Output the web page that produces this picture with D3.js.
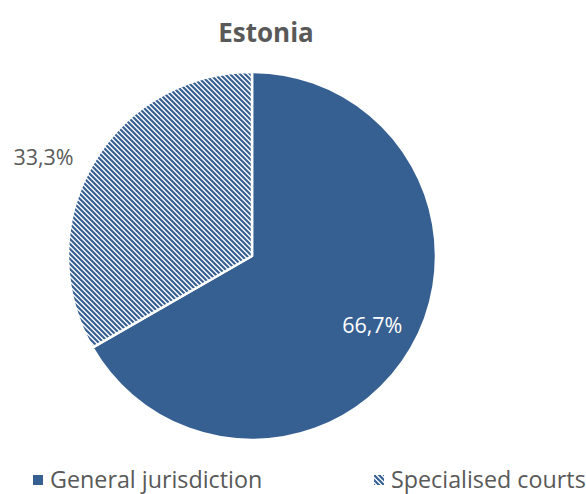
<!DOCTYPE html>
<html>
<head>
    <meta charset="utf-8">
    <title>Estonia</title>
    <style type="text/css">
        body {
            margin: 0;
            background: #ffffff;
        }

        svg text {
            font-family: "Open Sans", "DejaVu Sans", sans-serif;
        }
    </style>
</head>
<body>
<div id="chart"></div>
<script src="https://cdn.jsdelivr.net/npm/d3@7/dist/d3.min.js"></script>
<script type="text/javascript">
    // data
    var categories = ["General jurisdiction", "Specialised courts"];
    var values = [66.7, 33.3];
    var labels = ["66,7%", "33,3%"];
    var title = "Estonia";

    var width = 586, height = 494;
    var cx = 252, cy = 256, radius = 184;
    var blue = "#376092";

    var svg = d3.select('#chart')
        .append('svg')
        .attr("width", width)
        .attr("height", height);

    // hatch pattern for specialised courts (wide downward diagonal)
    var defs = svg.append('defs');
    var pat = defs.append('pattern')
        .attr("id", "hatch")
        .attr("patternUnits", "userSpaceOnUse")
        .attr("width", 5)
        .attr("height", 5);
    pat.append('rect')
        .attr("width", 5).attr("height", 5)
        .attr("fill", "#ffffff");
    pat.append('path')
        .attr("d", "M-1,-1 L6,6 M4,-1 L6,1 M-1,4 L1,6")
        .attr("stroke", blue)
        .attr("stroke-width", 2.2);

    var fills = [blue, "url(#hatch)"];

    // title
    svg.append('text')
        .attr("x", 266)
        .attr("y", 42)
        .attr("text-anchor", "middle")
        .style("font-size", "26px")
        .style("font-weight", "bold")
        .style("fill", "#595959")
        .text(title);

    var pie = d3.pie().sort(null).value(function (d) { return d; });
    var arcs = pie(values);
    var arc = d3.arc().innerRadius(0).outerRadius(radius);

    var g = svg.append('g').attr("transform", "translate(" + cx + "," + cy + ")");

    g.selectAll('path')
        .data(arcs)
        .enter()
        .append('path')
        .attr("d", arc)
        .attr("fill", function (d, i) { return fills[i]; })
        .attr("stroke", "#ffffff")
        .attr("stroke-width", 2.5)
        .attr("stroke-linejoin", "round");

    // data labels: inside for first slice, outside for second
    var inArc = d3.arc().innerRadius(radius * 0.755).outerRadius(radius * 0.755);
    var outArc = d3.arc().innerRadius(radius * 1.07).outerRadius(radius * 1.07);

    g.selectAll('text.lbl')
        .data(arcs)
        .enter()
        .append('text')
        .attr("class", "lbl")
        .attr("transform", function (d, i) {
            var c = i === 0 ? inArc.centroid(d) : outArc.centroid(d);
            return "translate(" + c[0] + "," + c[1] + ")";
        })
        .attr("text-anchor", function (d, i) { return i === 0 ? "middle" : "end"; })
        .attr("dx", function (d, i) { return i === 0 ? 0 : -8; })
        .attr("dy", "0.35em")
        .style("font-size", "21.5px")
        .style("fill", function (d, i) { return i === 0 ? "#ffffff" : "#595959"; })
        .text(function (d, i) { return labels[i]; });

    // legend
    var legendX = [33, 374];
    var legend = svg.selectAll('g.legend')
        .data(categories)
        .enter()
        .append('g')
        .attr("class", "legend")
        .attr("transform", function (d, i) { return "translate(" + legendX[i] + ",475)"; });

    legend.append('rect')
        .attr("width", 10)
        .attr("height", 10)
        .attr("fill", function (d, i) { return fills[i]; });

    legend.append('text')
        .attr("x", 17)
        .attr("y", 13)
        .style("font-size", "23.3px")
        .style("fill", "#595959")
        .text(function (d) { return d; });
</script>
</body>
</html>
